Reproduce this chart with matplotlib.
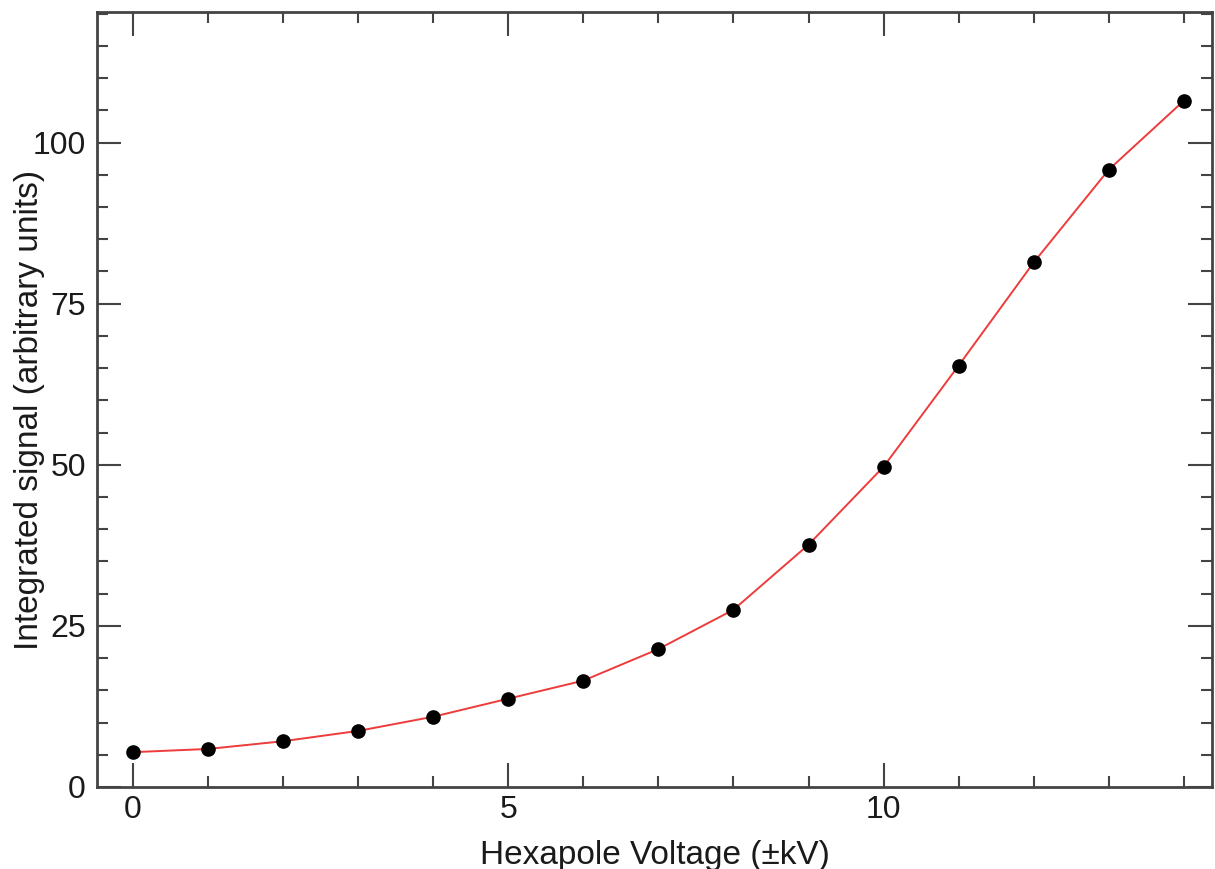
import matplotlib.pyplot as plt
from matplotlib.ticker import MultipleLocator

plt.rcParams['font.family'] = ['Liberation Sans', 'DejaVu Sans']

# hexapole voltage (kV) and integrated signal
voltage = [0, 1, 2, 3, 4, 5, 6, 7, 8, 9, 10, 11, 12, 13, 14]
signal = [5.4, 5.9, 7.1, 8.7, 10.9, 13.7, 16.5, 21.4, 27.5, 37.6, 49.7, 65.4, 81.4, 95.8, 106.5]

xticks = [0, 5, 10]
yticks = [0, 25, 50, 75, 100]

fig = plt.figure(figsize=(12.15, 8.69), dpi=100)
ax = fig.add_axes([0.0798, 0.0944, 0.918, 0.892])

ax.plot(voltage, signal, color="#ee3b3b", lw=1.4, zorder=2)
ax.plot(voltage, signal, "o", color="black", ms=9.5, zorder=3)

ax.set_xlim(-0.48, 14.38)
ax.set_ylim(0, 120.3)
ax.set_xticks(xticks)
ax.set_yticks(yticks)
ax.xaxis.set_minor_locator(MultipleLocator(1))
ax.yaxis.set_minor_locator(MultipleLocator(5))

ax.tick_params(which="both", direction="in", top=True, right=True,
               color="#444444", labelsize=23, labelcolor="#1a1a1a")
ax.tick_params(which="major", length=17, width=1.5)
ax.tick_params(which="minor", length=8, width=1.5)
ax.tick_params(axis="x", pad=6)
ax.tick_params(axis="y", pad=8)

for s in ax.spines.values():
    s.set_color("#444444")
    s.set_linewidth(2)

ax.set_xlabel("Hexapole Voltage (\u00b1kV)", fontsize=24, color="#1a1a1a")
ax.set_ylabel("Integrated signal (arbitrary units)", fontsize=24, color="#1a1a1a")
ax.xaxis.set_label_coords(0.5, -0.068)
ax.yaxis.set_label_coords(-0.047, 0.486)

fig.savefig("out.png", dpi=100)
